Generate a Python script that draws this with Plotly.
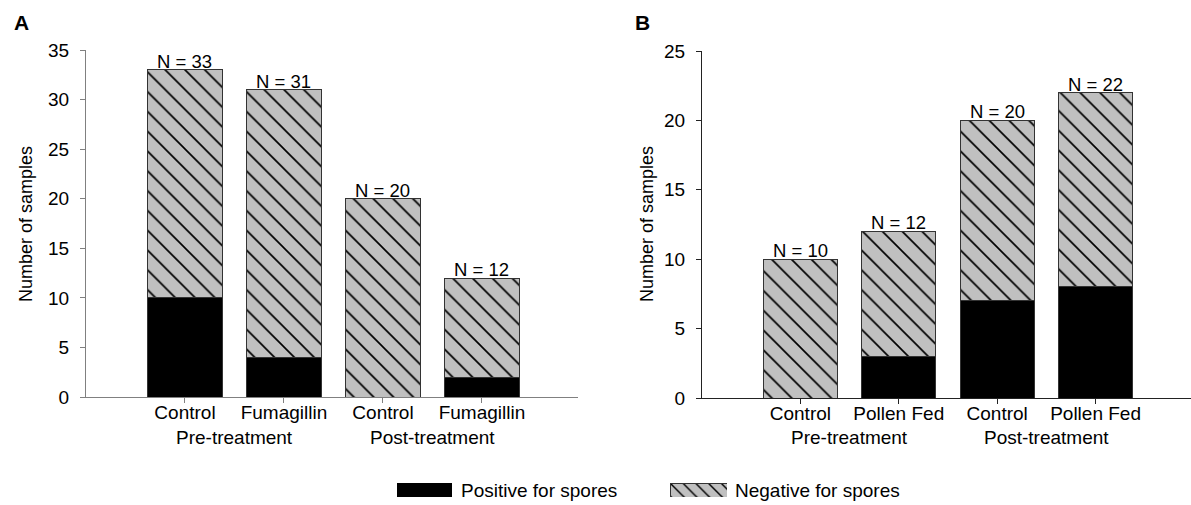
import plotly.graph_objects as go

# ---------------- data ----------------
cats_A = ["Control", "Fumagillin", "Control ", "Fumagillin "]
labels_A = ["Control", "Fumagillin", "Control", "Fumagillin"]
pos_A = [10, 4, 0, 2]
neg_A = [23, 27, 20, 10]

cats_B = ["Control", "Pollen Fed", "Control ", "Pollen Fed "]
labels_B = ["Control", "Pollen Fed", "Control", "Pollen Fed"]
pos_B = [0, 3, 7, 8]
neg_B = [10, 9, 13, 14]

groups = ["Pre-treatment", "Post-treatment"]
yticks_A = [0, 5, 10, 15, 20, 25, 30, 35]
yticks_B = [0, 5, 10, 15, 20, 25]

W, H = 1191, 505
FONT = "Liberation Sans, Arial, sans-serif"
GRAY = "#c0c0c0"
FS = 19

def px_x(p):
    return p / W

def px_y(p):
    return 1 - p / H

pattern = dict(shape="\\", fgcolor="black", bgcolor=GRAY, size=14, solidity=0.12)

fig = go.Figure()

def add_panel(cats, pos, neg, xa, ya):
    fig.add_trace(go.Bar(x=cats, y=pos, xaxis=xa, yaxis=ya, width=0.75,
                         marker=dict(color="black", line=dict(color="#333333", width=1)),
                         showlegend=False))
    fig.add_trace(go.Bar(x=cats, y=neg, xaxis=xa, yaxis=ya, width=0.75,
                         marker=dict(color=GRAY, pattern=pattern,
                                     line=dict(color="#333333", width=1)),
                         showlegend=False))

add_panel(cats_A, pos_A, neg_A, "x", "y")
add_panel(cats_B, pos_B, neg_B, "x2", "y2")

# legend swatches (small auxiliary axes)
fig.add_trace(go.Bar(x=[1], y=[""], orientation="h", xaxis="x3", yaxis="y3", width=1,
                     marker=dict(color="black", line=dict(width=0)), showlegend=False,
                     hoverinfo="skip"))
fig.add_trace(go.Bar(x=[1], y=[""], orientation="h", xaxis="x4", yaxis="y4", width=1,
                     marker=dict(color=GRAY, pattern=dict(shape="\\", fgcolor="black",
                                 bgcolor=GRAY, size=9, solidity=0.16),
                                 line=dict(color="#333333", width=1)),
                     showlegend=False, hoverinfo="skip"))

tickfont = dict(family=FONT, size=FS, color="black")

def xaxis_cfg(dom, cats, labels, linecolor, anchor):
    return dict(domain=dom, anchor=anchor, type="category", categoryorder="array",
                categoryarray=cats, range=[-1, 3.97], tickvals=cats, ticktext=labels,
                showline=True, linecolor=linecolor, linewidth=1, ticks="outside",
                ticklen=5, tickcolor=linecolor, tickfont=tickfont, showgrid=False,
                zeroline=False, fixedrange=True, automargin=False, ticklabelstandoff=-7)

def yaxis_cfg(dom, rng, tv, linecolor, anchor):
    return dict(domain=dom, anchor=anchor, range=rng, tickvals=tv, showline=True,
                linecolor=linecolor, linewidth=1, ticks="outside", ticklen=5,
                tickcolor=linecolor, tickfont=tickfont, showgrid=False, zeroline=False,
                fixedrange=True, automargin=False, ticklabelstandoff=7)

hidden = dict(visible=False, fixedrange=True, automargin=False)

layout = dict(
    template="none",
    width=W, height=H, margin=dict(l=0, r=0, t=0, b=0, pad=0), autosize=False,
    paper_bgcolor="white", plot_bgcolor="white", barmode="stack", bargap=0.25,
    showlegend=False, font=dict(family=FONT, size=FS, color="black"),
    xaxis=xaxis_cfg([px_x(86), px_x(578)], cats_A, labels_A, "#808080", "y"),
    yaxis=yaxis_cfg([px_y(397), px_y(50)], [0, 35], yticks_A, "#808080", "x"),
    xaxis2=xaxis_cfg([px_x(702), 1.0], cats_B, labels_B, "#222222", "y2"),
    yaxis2=yaxis_cfg([px_y(398), px_y(51)], [0, 25], yticks_B, "#222222", "x2"),
    xaxis3=dict(domain=[px_x(397), px_x(452)], anchor="y3", range=[0, 1], **hidden),
    yaxis3=dict(domain=[px_y(497), px_y(483)], anchor="x3", **hidden),
    xaxis4=dict(domain=[px_x(670), px_x(727)], anchor="y4", range=[0, 1], **hidden),
    yaxis4=dict(domain=[px_y(497), px_y(483)], anchor="x4", **hidden),
)
fig.update_layout(**layout)

ann = []
# N labels
for cats, pos, neg, xr, yr in [(cats_A, pos_A, neg_A, "x", "y"), (cats_B, pos_B, neg_B, "x2", "y2")]:
    for c, p, n in zip(cats, pos, neg):
        ann.append(dict(x=c, y=p + n, xref=xr, yref=yr, text=f"N = {p + n}",
                        showarrow=False, yanchor="bottom", yshift=-4,
                        font=dict(family=FONT, size=18.5, color="black")))
# group labels
for xr in ["x", "x2"]:
    for gi, g in enumerate(groups):
        ann.append(dict(x=0.5 + 2 * gi, y=px_y(437), xref=xr, yref="paper", text=g,
                        showarrow=False, yanchor="middle",
                        font=dict(family=FONT, size=FS, color="black")))
# y titles
for x_px in [26, 647]:
    ann.append(dict(x=px_x(x_px), y=px_y(224), xref="paper", yref="paper",
                    text="Number of samples", textangle=-90, showarrow=False,
                    yanchor="middle", xanchor="center",
                    font=dict(family=FONT, size=18, color="black")))
# panel letters
for t, x_px in [("A", 21), ("B", 642)]:
    ann.append(dict(x=px_x(x_px), y=px_y(22), xref="paper", yref="paper", text=f"<b>{t}</b>",
                    showarrow=False, yanchor="middle", xanchor="center",
                    font=dict(family=FONT, size=21, color="black")))
# legend text
for t, x_px in [("Positive for spores", 459), ("Negative for spores", 733)]:
    ann.append(dict(x=px_x(x_px), y=px_y(490), xref="paper", yref="paper", text=t,
                    xanchor="left", yanchor="middle", showarrow=False,
                    font=dict(family=FONT, size=FS, color="black")))
fig.update_layout(annotations=ann)

fig.write_html("out.html")
